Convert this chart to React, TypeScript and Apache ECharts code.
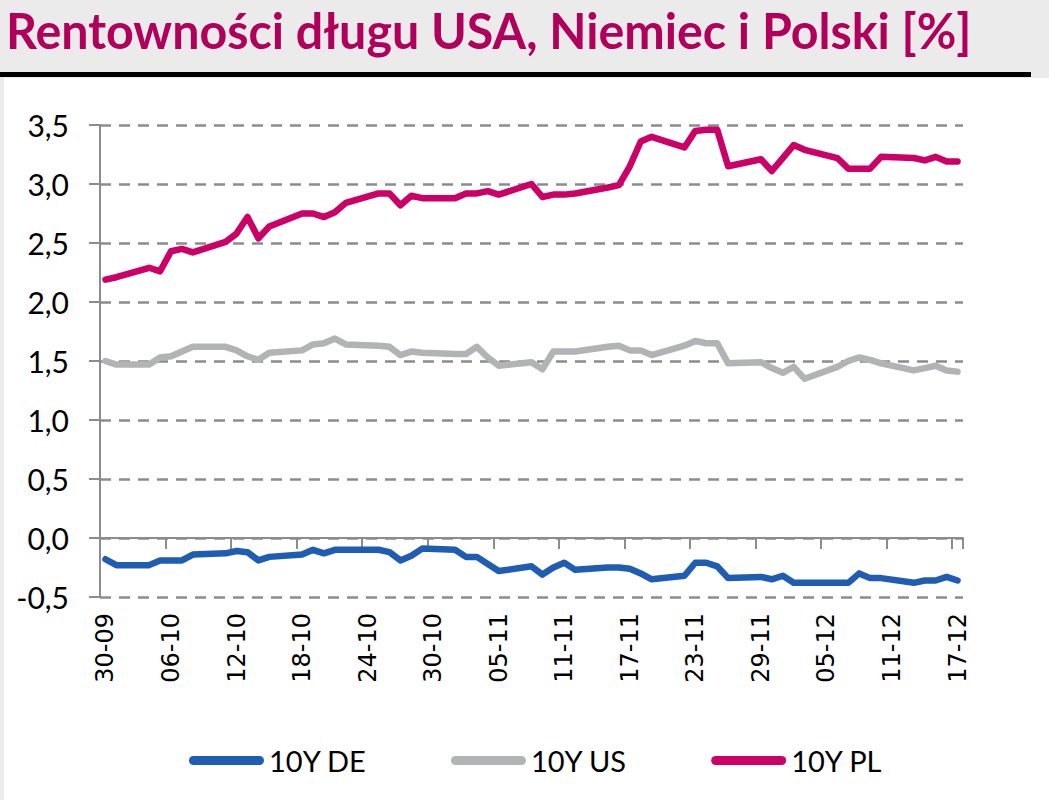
import React, { useEffect, useRef } from "react";
import * as echarts from "echarts";

const chartTitle = "Rentowności długu USA, Niemiec i Polski [%]";

const dates: string[] = [
  "30-09",
  "01-10", "02-10", "03-10", "04-10", "05-10", "06-10", "07-10", "08-10", "09-10", "10-10",
  "11-10", "12-10", "13-10", "14-10", "15-10", "16-10", "17-10", "18-10", "19-10", "20-10",
  "21-10", "22-10", "23-10", "24-10", "25-10", "26-10", "27-10", "28-10", "29-10", "30-10", "31-10",
  "01-11", "02-11", "03-11", "04-11", "05-11", "06-11", "07-11", "08-11", "09-11", "10-11",
  "11-11", "12-11", "13-11", "14-11", "15-11", "16-11", "17-11", "18-11", "19-11", "20-11",
  "21-11", "22-11", "23-11", "24-11", "25-11", "26-11", "27-11", "28-11", "29-11", "30-11",
  "01-12", "02-12", "03-12", "04-12", "05-12", "06-12", "07-12", "08-12", "09-12", "10-12",
  "11-12", "12-12", "13-12", "14-12", "15-12", "16-12", "17-12",
];

const seriesNames = ["10Y DE", "10Y US", "10Y PL"];
const seriesColors = ["#1f5db4", "#b1b3b6", "#cc0066"];

// values on business days, null on weekends (lines are joined across them)
const de10y: (number | null)[] = [
  -0.18, -0.23, null, null, -0.23, -0.19, -0.19, -0.19, -0.14, null, null,
  -0.13, -0.11, -0.12, -0.19, -0.16, null, null, -0.14, -0.10, -0.13,
  -0.10, -0.10, null, null, -0.10, -0.12, -0.19, -0.15, -0.09, null, null,
  -0.10, -0.16, -0.16, -0.22, -0.28, null, null, -0.24, -0.31, -0.25,
  -0.21, -0.27, null, null, -0.25, -0.25, -0.26, -0.30, -0.35, null,
  null, -0.32, -0.21, -0.21, -0.24, -0.34, null, null, -0.33, -0.35,
  -0.32, -0.38, -0.38, null, null, -0.38, -0.38, -0.30, -0.34, -0.34,
  null, null, -0.38, -0.36, -0.36, -0.33, -0.36,
];

const us10y: (number | null)[] = [
  1.50, 1.47, null, null, 1.47, 1.53, 1.54, 1.58, 1.62, null, null,
  1.62, 1.59, 1.54, 1.51, 1.57, null, null, 1.59, 1.64, 1.65,
  1.69, 1.64, null, null, 1.63, 1.62, 1.55, 1.58, 1.57, null, null,
  1.56, 1.56, 1.62, 1.53, 1.46, null, null, 1.49, 1.43, 1.58,
  1.58, 1.58, null, null, 1.62, 1.63, 1.59, 1.59, 1.55, null,
  null, 1.63, 1.67, 1.65, 1.65, 1.48, null, null, 1.49, 1.44,
  1.40, 1.45, 1.35, null, null, 1.45, 1.50, 1.53, 1.51, 1.48,
  null, null, 1.42, 1.44, 1.46, 1.42, 1.41,
];

const pl10y: (number | null)[] = [
  2.19, 2.21, null, null, 2.29, 2.26, 2.43, 2.45, 2.42, null, null,
  2.51, 2.58, 2.72, 2.54, 2.64, null, null, 2.75, 2.75, 2.72,
  2.76, 2.84, null, null, 2.92, 2.92, 2.82, 2.90, 2.88, null, null,
  2.88, 2.92, 2.92, 2.94, 2.91, null, null, 3.00, 2.89, 2.91,
  2.91, 2.92, null, null, 2.97, 2.99, 3.15, 3.36, 3.40, null,
  null, 3.31, 3.45, 3.46, 3.46, 3.15, null, null, 3.21, 3.11,
  3.22, 3.33, 3.29, null, null, 3.22, 3.13, 3.13, 3.13, 3.23,
  null, null, 3.22, 3.20, 3.23, 3.19, 3.19,
];

const seriesData = [de10y, us10y, pl10y];

const pillIcon =
  "path://M4.5,0 H70.5 A4.5,4.5 0 0 1 70.5,9 H4.5 A4.5,4.5 0 0 1 4.5,0 Z";

export default function App() {
  const ref = useRef<HTMLDivElement>(null);

  useEffect(() => {
    const chart = echarts.init(ref.current!, null, { renderer: "svg" });
    const gray = "#8c8c8c";
    chart.setOption({
      animation: false,
      backgroundColor: "#ffffff",
      graphic: [
        {
          type: "rect",
          silent: true,
          z: -10,
          shape: { x: 0, y: 0, width: 1049, height: 78 },
          style: { fill: "#ebebeb" },
        },
        {
          type: "rect",
          silent: true,
          z: -10,
          shape: { x: 0, y: 78, width: 4, height: 722 },
          style: { fill: "#ebebeb" },
        },
        {
          type: "rect",
          silent: true,
          shape: { x: 0, y: 72, width: 1031, height: 5 },
          style: { fill: "#000000" },
        },
        {
          type: "text",
          silent: true,
          x: 6,
          y: 4,
          scaleX: 0.967,
          style: {
            text: chartTitle,
            fill: "#b1005c",
            font: "bold 50px Lato",
            verticalAlign: "top",
          },
        },
      ],
      grid: { left: 100, right: 86, top: 125, bottom: 203, containLabel: false },
      legend: {
        data: seriesNames,
        top: 741,
        left: 184,
        itemWidth: 75,
        itemHeight: 9,
        itemGap: 84,
        icon: pillIcon,
        textStyle: {
          fontFamily: "'Liberation Sans Narrow', Lato, sans-serif",
          fontSize: 29,
          color: "#000",
        },
      },
      xAxis: [
        {
          type: "category",
          data: dates,
          boundaryGap: true,
          position: "bottom",
          axisLine: { show: false, onZero: false },
          axisTick: { show: false },
          splitLine: { show: false },
          axisLabel: {
            interval: 5,
            rotate: 90,
            margin: 16,
            fontFamily: "'DejaVu Sans', sans-serif",
            fontSize: 24,
            color: "#000",
          },
        },
        {
          type: "category",
          data: dates,
          boundaryGap: true,
          position: "bottom",
          axisLine: { show: true, onZero: true, lineStyle: { color: gray, width: 2 } },
          axisTick: { show: true, interval: 5, length: 11, lineStyle: { color: gray, width: 2 } },
          axisLabel: { show: false },
          splitLine: { show: false },
        },
      ],
      yAxis: {
        type: "value",
        min: -0.5,
        max: 3.5,
        interval: 0.5,
        axisLine: { show: true, onZero: false, lineStyle: { color: gray, width: 2 } },
        axisTick: { show: true, length: 11, lineStyle: { color: gray, width: 2 } },
        axisLabel: {
          formatter: (v: number) => v.toFixed(1).replace(".", ","),
          fontFamily: "Lato, sans-serif",
          fontSize: 30,
          color: "#000",
          margin: 31,
        },
        splitLine: { show: true, lineStyle: { color: gray, width: 2.5, type: [11, 8] } },
      },
      series: seriesNames.map((name, i) => ({
        name,
        type: "line",
        xAxisIndex: 0,
        yAxisIndex: 0,
        data: seriesData[i],
        connectNulls: true,
        showSymbol: false,
        symbol: "none",
        smooth: false,
        itemStyle: { color: seriesColors[i] },
        lineStyle: { color: seriesColors[i], width: 6.5, cap: "round", join: "round" },
        emphasis: { disabled: true },
      })),
    });
    return () => chart.dispose();
  }, []);

  return (
    <div
      ref={ref}
      style={{ position: "absolute", left: 0, top: 0, width: 1049, height: 800, background: "#fff" }}
    />
  );
}
